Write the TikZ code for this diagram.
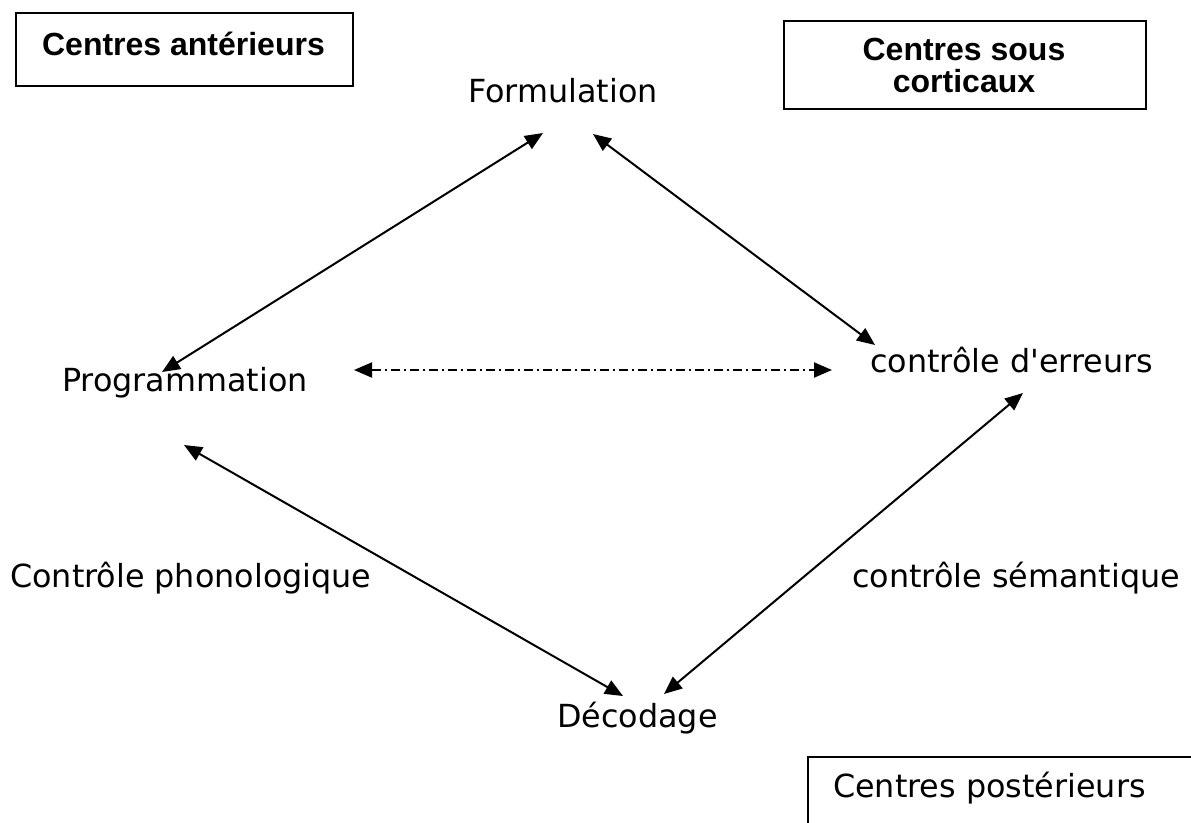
\documentclass[tikz,border=0pt]{standalone}
\usepackage{fontspec}
\setmainfont{DejaVu Sans}[Ligatures=TeXOff]
\newfontfamily\titlefont{Liberation Sans}
\usetikzlibrary{arrows.meta}

\begin{document}
\begin{tikzpicture}[x=1pt,y=-1pt,
  lbl/.style={font=\fontsize{31.8}{37}\selectfont, inner sep=0pt, anchor=base west},
  ttl/.style={font=\titlefont\bfseries\fontsize{32}{32}\selectfont, inner sep=0pt, align=center},
  frame/.style={draw, line width=2pt},
  link/.style={line width=2pt, {Triangle[length=18pt,width=15pt]}-{Triangle[length=18pt,width=15pt]}},
  dashdot/.style={link, dash pattern=on 9pt off 4pt on 2pt off 4pt}]
  \useasboundingbox (0,0) rectangle (1191,822);

  % framed headings
  \node[frame, minimum width=337pt, minimum height=73pt, anchor=north west] (antbox) at (15,12) {};
  \node[ttl, anchor=base] (ant) at (183.5,55) {Centres antérieurs};
  \node[frame, minimum width=362pt, minimum height=88pt, anchor=north west] (sousbox) at (783,20) {};
  \node[ttl, anchor=base] (sous) at (964,92) {Centres sous\\corticaux};
  \node[lbl] (post) at (833,797) {Centres postérieurs};
  \coordinate (postR) at (1195,757);
  \coordinate (postB) at (808,826);
  \draw[line width=2pt] (postR) -| (postB);

  % stages
  \node[lbl] (form) at (468,102) {Formulation};
  \node[lbl] (prog) at (62,391) {Programmation};
  \node[lbl] (err) at (870,372) {contrôle d'erreurs};
  \node[lbl] (phon) at (10,587) {Contrôle phonologique};
  \node[lbl] (sem) at (852,587) {contrôle sémantique};
  \node[lbl] (dec) at (557,727) {Décodage};

  % connector ends
  \coordinate (formL) at (543,133);
  \coordinate (formR) at (593,134);
  \coordinate (progT) at (162,372);
  \coordinate (progB) at (184,445);
  \coordinate (progE) at (354,370);
  \coordinate (errW) at (832,370);
  \coordinate (errT) at (875,345);
  \coordinate (errB) at (1023,393);
  \coordinate (decL) at (623,696);
  \coordinate (decR) at (664,694);

  \draw[link] (formL) -- (progT);
  \draw[link] (formR) -- (errT);
  \draw[link] (progB) -- (decL);
  \draw[link] (errB) -- (decR);
  \draw[dashdot] (progE) -- (errW);
\end{tikzpicture}
\end{document}
